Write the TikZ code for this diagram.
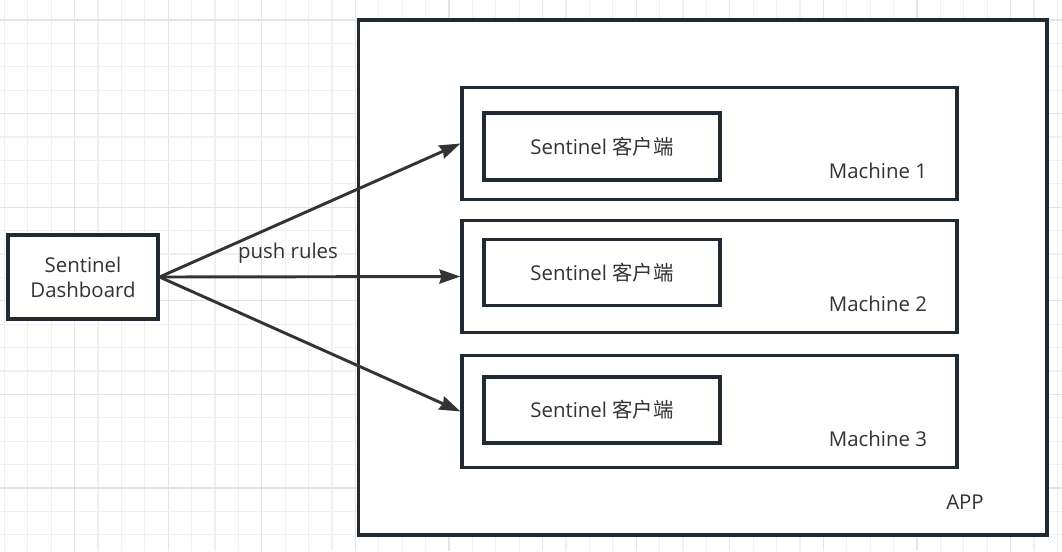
\documentclass[tikz,border=0pt]{standalone}
\usepackage{fontspec}
\setmainfont{Open Sans}
\newfontfamily\cjk{Noto Sans CJK SC}
\usetikzlibrary{arrows.meta}
\definecolor{boxc}{HTML}{212A33}
\definecolor{txtc}{HTML}{333333}
\definecolor{gridminor}{HTML}{F0F0F0}
\definecolor{gridmajor}{HTML}{E4E4E4}
\tikzset{
  box/.style={draw=boxc, line width=2.3pt, fill=white, rectangle, inner sep=0pt, text=txtc, font=\fontsize{15.3}{18.75}\selectfont, align=center},
  lbl/.style={text=txtc, font=\fontsize{15.3}{18.75}\selectfont, inner sep=0pt},
  conn/.style={draw=txtc, line width=2.2pt, -{Stealth[length=15.75pt, width=10.5pt, inset=1.5pt]}}
}
\begin{document}
\begin{tikzpicture}[x=0.75pt, y=-0.75pt]
\useasboundingbox (0,0) rectangle (1062,551);
\fill[white] (0,0) rectangle (1062,551);
% grid
\foreach \k in {0,...,45} {
  \pgfmathsetmacro{\xx}{4.3+\k*23.4}
  \pgfmathtruncatemacro{\mm}{mod(\k,4)}
  \ifnum\mm=3
    \draw[gridmajor, line width=0.9pt] (\xx,0) -- (\xx,551);
  \else
    \draw[gridminor, line width=0.9pt] (\xx,0) -- (\xx,551);
  \fi
}
\foreach \k in {0,...,22} {
  \pgfmathsetmacro{\yy}{20+\k*23.4}
  \pgfmathtruncatemacro{\mm}{mod(\k,4)}
  \ifnum\mm=0
    \draw[gridmajor, line width=0.9pt] (0,\yy) -- (1062,\yy);
  \else
    \draw[gridminor, line width=0.9pt] (0,\yy) -- (1062,\yy);
  \fi
}
% boxes
\node[box, minimum width=688.5*0.75pt, minimum height=515*0.75pt] (app) at (702.75,277.5) {};
\node[lbl] (applbl) at (965,502) {APP};
\node[box, minimum width=495*0.75pt, minimum height=112*0.75pt] (m1) at (709.5,143.5) {};
\node[box, minimum width=495*0.75pt, minimum height=112*0.75pt] (m2) at (709.5,276.5) {};
\node[box, minimum width=495*0.75pt, minimum height=112*0.75pt] (m3) at (709.5,411.5) {};
\node[box, minimum width=236*0.75pt, minimum height=67*0.75pt] (c1) at (602,146.5) {Sentinel {\cjk 客户端}};
\node[box, minimum width=236*0.75pt, minimum height=66*0.75pt] (c2) at (602,272.5) {Sentinel {\cjk 客户端}};
\node[box, minimum width=236*0.75pt, minimum height=66*0.75pt] (c3) at (602,410) {Sentinel {\cjk 客户端}};
\node[lbl] (ml1) at (878,171) {Machine 1};
\node[lbl] (ml2) at (878,304) {Machine 2};
\node[lbl] (ml3) at (878,439) {Machine 3};
\node[box, minimum width=150*0.75pt, minimum height=84*0.75pt] (dash) at (83,277) {Sentinel\\Dashboard};
% connectors
\draw[conn] (dash.east) -- (m1.west);
\draw[conn] (dash.east) -- (m2.west);
\draw[conn] (dash.east) -- (m3.west);
\node[lbl] (push) at (288,253) {push rules};
\end{tikzpicture}
\end{document}
